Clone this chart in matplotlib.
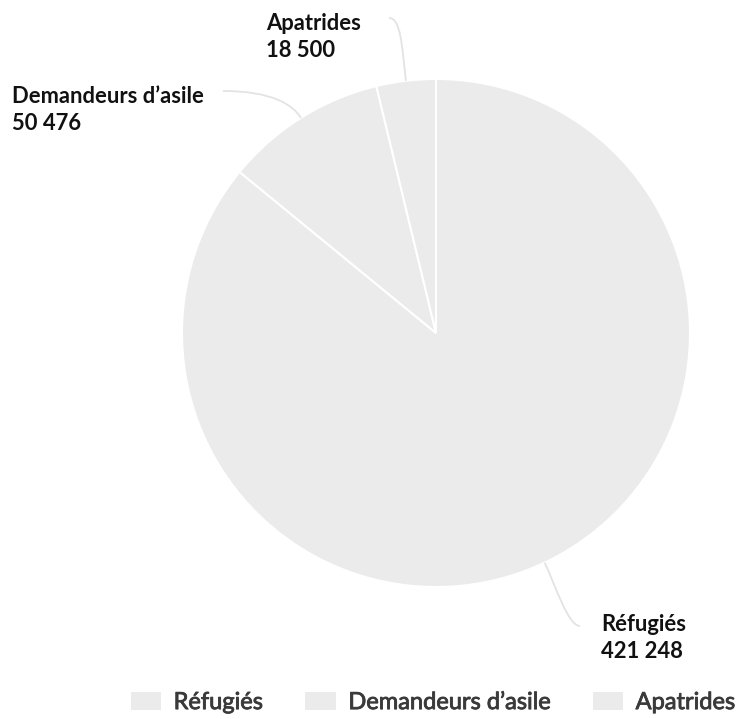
import matplotlib.pyplot as plt
import numpy as np
from matplotlib.path import Path
from matplotlib.patches import PathPatch
import matplotlib.patheffects as pe

categories = ['Réfugiés', 'Demandeurs d\u2019asile', 'Apatrides']
values = [421248, 50476, 18500]
value_labels = ['421 248', '50 476', '18 500']

plt.rcParams['font.family'] = ['Lato', 'DejaVu Sans']

fig = plt.figure(figsize=(7.44, 7.19), dpi=100)
ax = fig.add_axes([0, 0, 1, 1])

# pixel-like coordinates, y pointing down
cx, cy, r = 436, 333, 254
wedges, _ = ax.pie(values, center=(cx, cy), radius=r, startangle=-90, counterclock=True,
                   colors=['#ebebeb'] * 3,
                   wedgeprops=dict(edgecolor='white', linewidth=1.5))
ax.set_xlim(0, 744)
ax.set_ylim(719, 0)
ax.set_aspect('equal')
ax.axis('off')

# label placement: line end point, text x, first baseline
label_pos = {
    'Réfugiés': dict(end=(580, 626), side=-1, tx=601, by=631, d1=25, d2=12),
    'Demandeurs d\u2019asile': dict(end=(223, 91), side=1, tx=12, by=103, d1=15, d2=50),
    'Apatrides': dict(end=(389, 18), side=1, tx=266, by=30, d1=35, d2=12),
}

for w, name, val in zip(wedges, categories, value_labels):
    p = label_pos[name]
    mid = np.deg2rad((w.theta1 + w.theta2) / 2)
    u = np.array([np.cos(mid), np.sin(mid)])
    p0 = np.array([cx, cy]) + u * r
    p1 = p0 + u * p['d1']
    end = np.array(p['end'], dtype=float)
    p2 = end + np.array([p['side'] * p['d2'], 0])
    path = Path([p0, p1, p2, end], [Path.MOVETO, Path.CURVE4, Path.CURVE4, Path.CURVE4])
    ax.add_patch(PathPatch(path, facecolor='none', edgecolor='#e3e3e3', lw=1.3))
    ax.text(p['tx'], p['by'], name, fontsize=15.8, fontweight='bold', color='#111111', va='baseline')
    ax.text(p['tx'], p['by'] + 27, val, fontsize=15.8, fontweight='bold', color='#111111', va='baseline')

leg = fig.legend(wedges, categories, loc='lower right', bbox_to_anchor=(741 / 744, 0.0),
                 ncol=3, frameon=False, labelcolor='#3a3a3a',
                 handlelength=1.36, handleheight=0.97, handletextpad=0.5,
                 columnspacing=1.75, borderpad=0.15, borderaxespad=0.1,
                 prop=dict(family=['Lato', 'DejaVu Sans'], size=17))
for t in leg.get_texts():
    t.set_path_effects([pe.withStroke(linewidth=0.6, foreground='#3a3a3a')])

fig.savefig('out.png', dpi=100)
